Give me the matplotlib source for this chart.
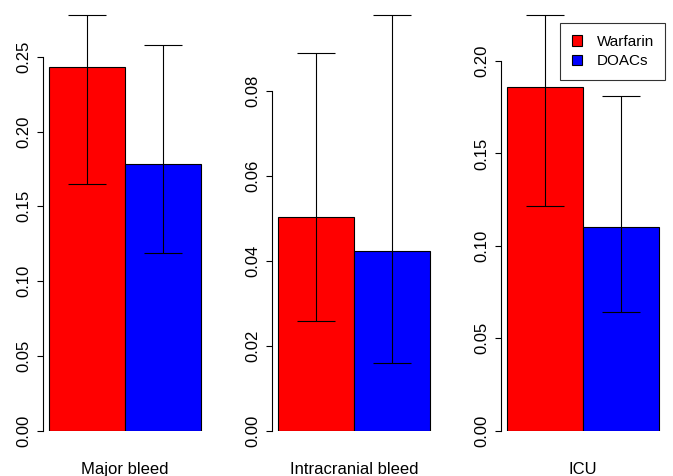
import matplotlib
matplotlib.use("Agg")
import matplotlib.pyplot as plt
from matplotlib.patches import Patch
from matplotlib.ticker import MultipleLocator, FormatStrFormatter
import matplotlib.transforms as mtransforms
import numpy as np

plt.rcParams['font.family'] = ['Liberation Sans', 'DejaVu Sans']

outcomes = ["Major bleed", "Intracranial bleed", "ICU"]
groups = ["Warfarin", "DOACs"]
colors = ["#FF0000", "#0000FF"]

warfarin_mean = [0.243, 0.0503, 0.1858]
warfarin_lower = [0.1647, 0.0258, 0.1217]
warfarin_upper = [0.2777, 0.0890, 0.2247]
doac_mean = [0.178, 0.0424, 0.1102]
doac_lower = [0.119, 0.0159, 0.0640]
doac_upper = [0.258, 0.0978, 0.1809]
tick_steps = [0.05, 0.02, 0.05]

W, H = 673, 476
fig = plt.figure(figsize=(W / 100, H / 100), dpi=100)

# pixel extents of the bar pairs in each panel (left, right)
bar_extents = [(49, 201), (277.7, 430.3), (506.7, 659.3)]
y_bottom_px, y_top_px = 430.7, 15.3

for i, name in enumerate(outcomes):
    L, R = bar_extents[i]
    w = (R - L) / 2
    x0 = L - 0.08 * w
    x1 = R + 0.08 * w
    ax = fig.add_axes([x0 / W, 1 - y_bottom_px / H, (x1 - x0) / W, (y_bottom_px - y_top_px) / H])
    means = [warfarin_mean[i], doac_mean[i]]
    lows = [warfarin_lower[i], doac_lower[i]]
    ups = [warfarin_upper[i], doac_upper[i]]
    xs = np.array([1.5, 2.5])
    ax.bar(xs, means, width=1.0, color=colors, edgecolor="black", linewidth=0.8, zorder=2)
    yerr = np.array([np.array(means) - np.array(lows), np.array(ups) - np.array(means)])
    ax.errorbar(xs, means, yerr=yerr, fmt="none", ecolor="black", elinewidth=0.8,
                capsize=13.7, capthick=0.8, zorder=3, clip_on=False)
    ymax = max(ups)
    ax.set_xlim(0.92, 3.08)
    ax.set_ylim(0, ymax)
    ax.yaxis.set_major_locator(MultipleLocator(tick_steps[i]))
    ax.yaxis.set_major_formatter(FormatStrFormatter('%.2f'))
    for s in ["top", "right", "bottom"]:
        ax.spines[s].set_visible(False)
    ticks = [t for t in ax.get_yticks() if 0 <= t <= ymax + 1e-12]
    ax.spines["left"].set_bounds(0, ticks[-1])
    ax.spines["left"].set_linewidth(0.8)
    ax.set_xticks([])
    ax.tick_params(axis="y", length=4.3, width=0.8, pad=3.8, labelsize=12, colors="black")
    for lab in ax.get_yticklabels():
        lab.set_rotation(90)
        lab.set_va("center")
        lab.set_ha("right")
    trans = mtransforms.blended_transform_factory(ax.transData, fig.transFigure)
    ax.text(2.0, 2 / H, name, transform=trans, ha="center", va="baseline", fontsize=12)
    ax.patch.set_visible(False)
    if i == 2:
        handles = [Patch(facecolor=c, edgecolor="black", linewidth=0.8) for c in colors]
        leg = ax.legend(handles, groups, loc="upper right",
                        bbox_to_anchor=(665.3 / W, 1 - 23.3 / H),
                        bbox_transform=fig.transFigure, borderaxespad=0,
                        fontsize=11, frameon=True, fancybox=False,
                        handlelength=0.7, handleheight=0.7, handletextpad=0.95,
                        labelspacing=0.38, borderpad=0.735)
        leg.get_frame().set_edgecolor("black")
        leg.get_frame().set_linewidth(0.8)

fig.savefig("out.png", dpi=100)
